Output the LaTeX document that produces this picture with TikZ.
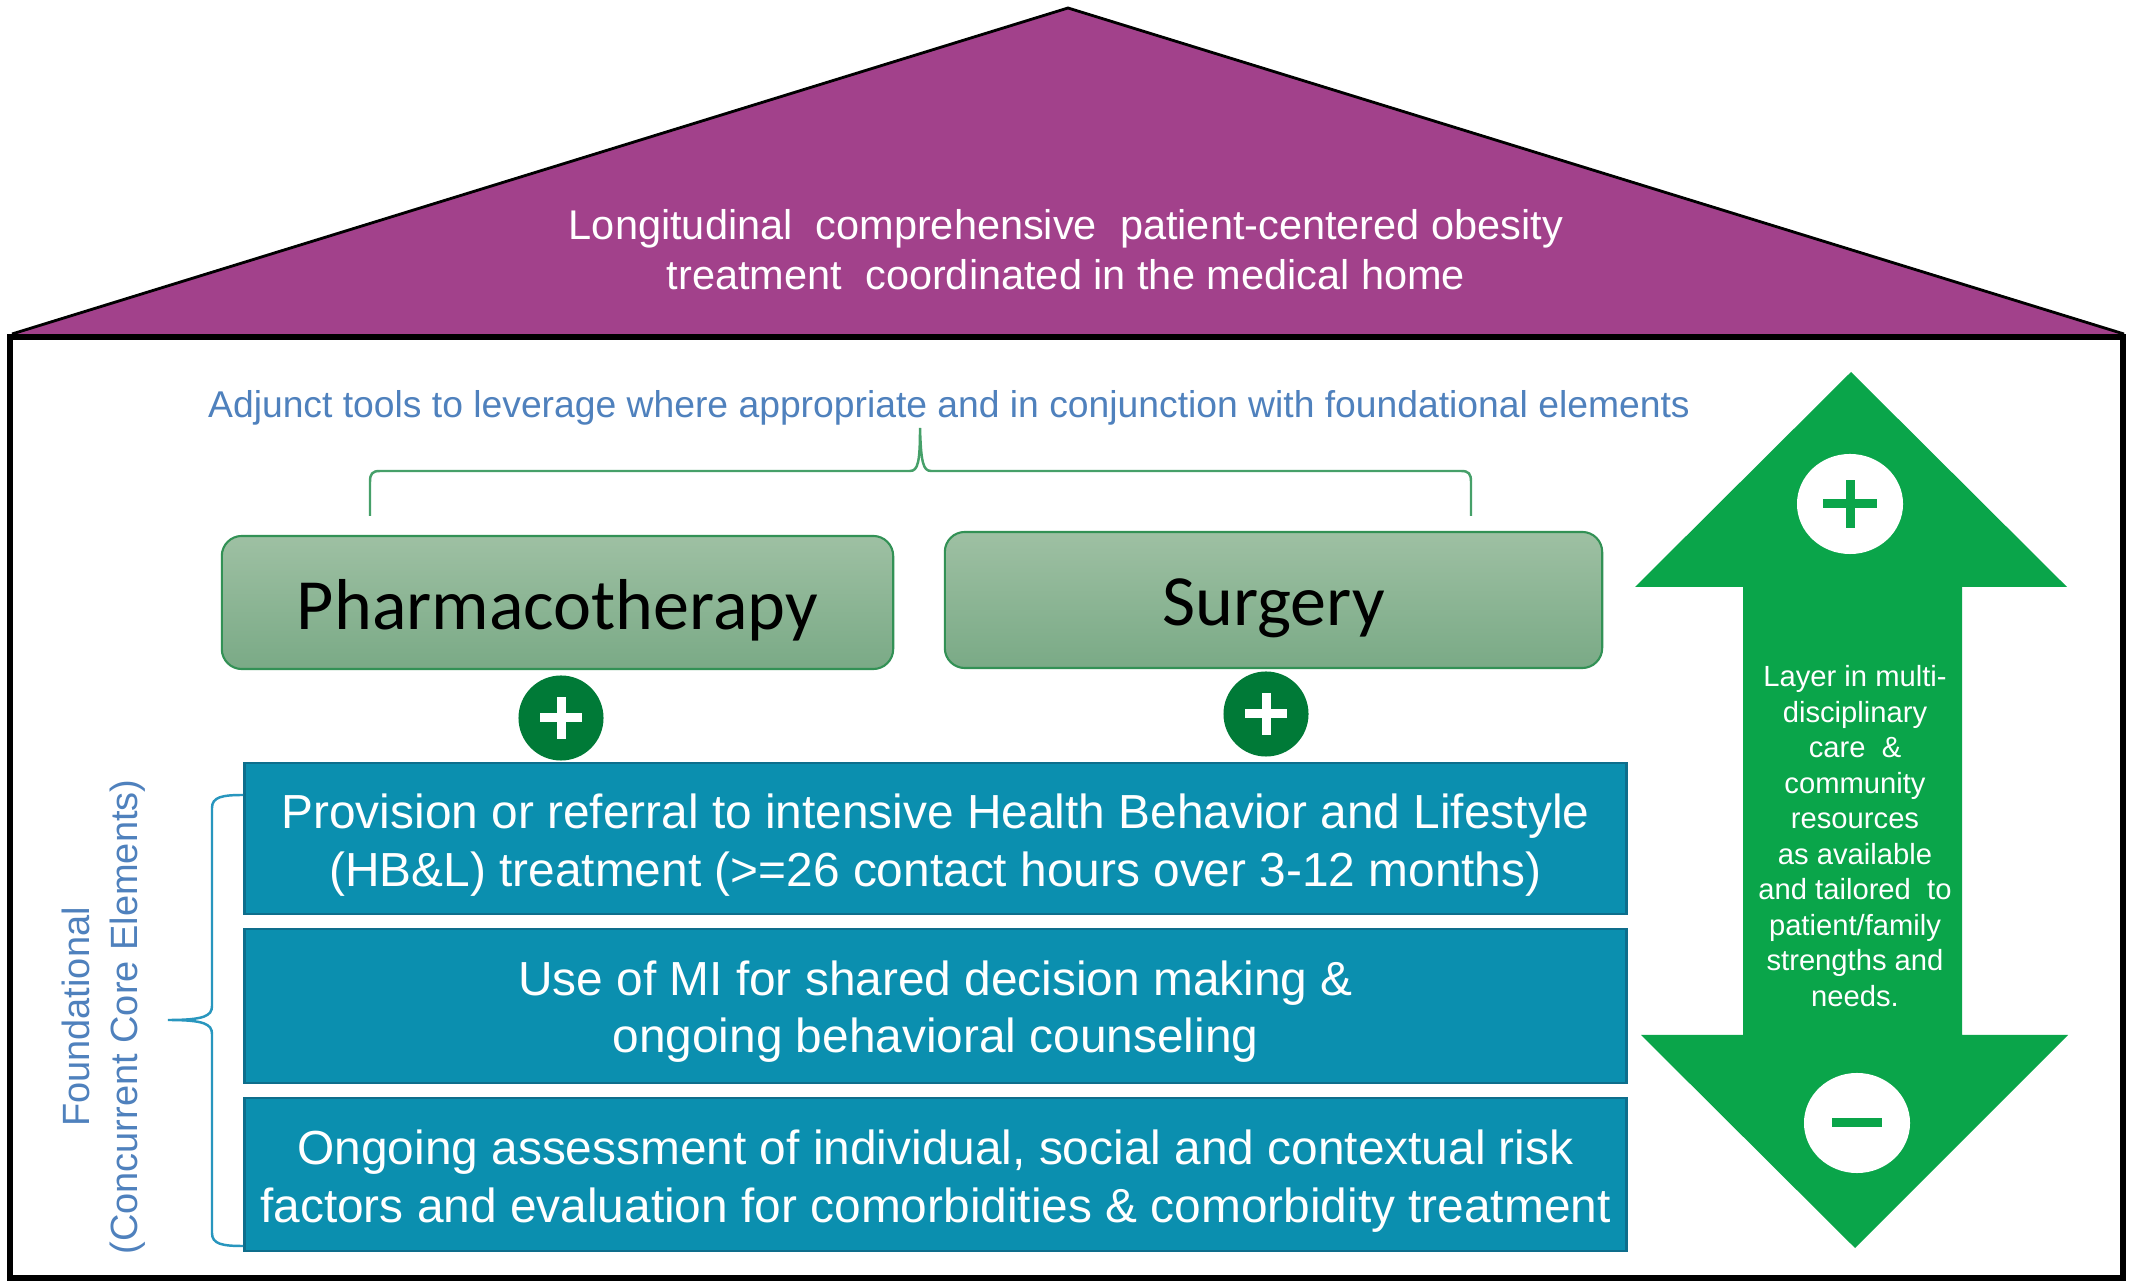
\documentclass[tikz,border=0pt]{standalone}
\usepackage{fontspec}
\setmainfont{Liberation Sans}
\newfontfamily\calibri{Carlito}
\usetikzlibrary{shapes.geometric}

\definecolor{roofpurple}{RGB}{162,65,139}
\definecolor{tealbox}{RGB}{11,143,175}
\definecolor{tealedge}{RGB}{14,110,140}
\definecolor{arrowgreen}{RGB}{10,165,74}
\definecolor{darkgreen}{RGB}{0,122,55}
\definecolor{sagetop}{RGB}{158,192,163}
\definecolor{sagebottom}{RGB}{122,170,134}
\definecolor{sageedge}{RGB}{50,145,85}
\definecolor{labelblue}{RGB}{79,129,189}
\definecolor{bracegreen}{RGB}{70,160,105}
\definecolor{braceteal}{RGB}{40,150,190}

\tikzset{
  toolbox/.style={rectangle, rounded corners=0.2cm, draw=sageedge, line width=0.6pt,
    top color=sagetop, bottom color=sagebottom, inner sep=0pt},
  tooltext/.style={inner sep=0pt, font=\calibri\fontsize{20.5}{24}\selectfont},
  corebox/.style={rectangle, fill=tealbox, draw=tealedge, line width=0.8pt,
    minimum width=13.81cm, inner sep=0pt},
  coretext/.style={inner sep=0pt, text=white, align=center,
    font=\fontsize{13.6}{16.3}\selectfont},
  pluscirc/.style={circle, fill=darkgreen, minimum size=0.85cm, inner sep=0pt},
  markoval/.style={ellipse, fill=white, minimum width=1.06cm, minimum height=1.0cm, inner sep=0pt},
}

\begin{document}
\begin{tikzpicture}[x=0.01cm,y=-0.01cm]
\useasboundingbox (0,0) rectangle (2136,1283);
\fill[white] (0,0) rectangle (2136,1283);

% roof
\fill[roofpurple] (12,334) -- (1068,8) -- (2124,334) -- cycle;
\draw[line width=0.8pt] (12,334) -- (1068,8) -- (2124,334);
\node[text=white, align=center, font=\fontsize{11.8}{14.2}\selectfont] (roof) at (1066,250)
  {Longitudinal \ comprehensive \ patient-centered obesity\\treatment \ coordinated in the medical home};

% walls of the house
\draw[line width=1.45pt] (10,337) rectangle (2123,1278);

% adjunct tools heading and brace
\node[text=labelblue, font=\fontsize{10.6}{12.7}\selectfont] (adjunct) at (949,408)
  {Adjunct tools to leverage where appropriate and in conjunction with foundational elements};
\draw[bracegreen, line width=0.7pt]
  (370,516) -- (370,482) .. controls (370,474) and (372,471) .. (380,471)
  -- (910,471) .. controls (918,471) and (920,462) .. (920,428)
  .. controls (921,462) and (923,471) .. (931,471)
  -- (1461,471) .. controls (1469,471) and (1471,474) .. (1471,482) -- (1471,516);

% adjunct treatments
\node[toolbox, minimum width=6.71cm, minimum height=1.33cm] (pharma) at (557.5,602.5) {};
\node[tooltext] (pharmatext) at ([yshift=-2.3pt]pharma.center) {Pharmacotherapy};
\node[toolbox, minimum width=6.57cm, minimum height=1.36cm] (surgery) at (1273.5,600) {};
\node[tooltext] (surgerytext) at ([yshift=-2.5pt]surgery.center) {Surgery};

\node[pluscirc] (plusA) at (561,718) {};
\fill[white] (plusA) ++(-21,-4.5) rectangle ++(42,9);
\fill[white] (plusA) ++(-4.5,-21) rectangle ++(9,42);
\node[pluscirc] (plusB) at (1266,714) {};
\fill[white] (plusB) ++(-21,-4.5) rectangle ++(42,9);
\fill[white] (plusB) ++(-4.5,-21) rectangle ++(9,42);

% foundational elements
\node[corebox, minimum height=1.51cm] (hbl) at (935.5,838.5) {};
\node[coretext] (hbltext) at ([yshift=-1.9pt]hbl.center)
  {Provision or referral to intensive Health Behavior and Lifestyle\\(HB\&L) treatment (>=26 contact hours over 3-12 months)};
\node[corebox, minimum height=1.54cm] (mi) at (935.5,1006) {};
\node[coretext] (mitext) at ([yshift=-1.6pt]mi.center)
  {Use of MI for shared decision making \&\\ongoing behavioral counseling};
\node[corebox, minimum height=1.53cm] (assess) at (935.5,1174.5) {};
\node[coretext] (assesstext) at ([yshift=-1.9pt]assess.center)
  {Ongoing assessment of individual, social and contextual risk\\factors and evaluation for comorbidities \& comorbidity treatment};

\draw[braceteal, line width=0.7pt]
  (hbl.north west |- 0,795) .. controls (222,795) and (212,797) .. (212,808)
  -- (212,1006) .. controls (212,1016) and (204,1020) .. (168,1020)
  .. controls (204,1020) and (212,1024) .. (212,1034)
  -- (212,1233) .. controls (212,1244) and (222,1246) .. (assess.south west |- 0,1246);
\node[rotate=90, text=labelblue, align=center, font=\fontsize{10.8}{13.6}\selectfont] (found) at (104,1017)
  {Foundational\\(Concurrent Core Elements)};

% layering arrow
\fill[arrowgreen] (1851,372) -- (2067,587) -- (1962,587) -- (1962,1035) -- (2068,1035)
  -- (1855,1248) -- (1641,1035) -- (1743,1035) -- (1743,587) -- (1635,587) -- cycle;
\node[markoval] (upmark) at (1850,504) {};
\fill[arrowgreen] (upmark) ++(-27,-4.5) rectangle ++(54,9);
\fill[arrowgreen] (upmark) ++(-4.5,-24) rectangle ++(9,48);
\node[markoval] (downmark) at (1857,1123) {};
\fill[arrowgreen] (downmark) ++(-25,-4.5) rectangle ++(50,9);
\node[text=white, align=center, font=\fontsize{8.3}{10.1}\selectfont] (layer) at (1855,836)
  {Layer in multi-\\disciplinary\\care \ \&\\community\\resources\\as available\\and tailored \ to\\patient/family\\strengths and\\needs.};
\end{tikzpicture}
\end{document}
